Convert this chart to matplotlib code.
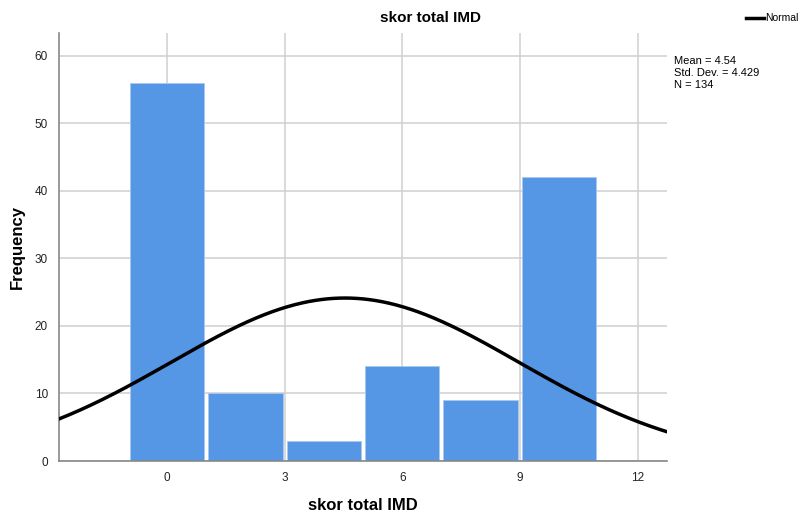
import numpy as np
import matplotlib
matplotlib.use("Agg")
import matplotlib.pyplot as plt

# histogram of skor total IMD
bin_centers = [0, 2, 4, 6, 8, 10]
counts = [56, 10, 3, 14, 9, 42]
mean = 4.54
std = 4.429
n = 134
bin_width = 2.0

xticks = [0, 3, 6, 9, 12]
yticks = [0, 10, 20, 30, 40, 50, 60]

plt.rcParams['font.family'] = ['Liberation Sans', 'DejaVu Sans']

fig = plt.figure(figsize=(8.01, 5.17), dpi=100)
ax = fig.add_axes([59 / 801, 1 - 461 / 517, (667 - 59) / 801, (461 - 33) / 517])

ax.set_axisbelow(True)
ax.grid(True, color='#cfcfcf', linewidth=1.1)
ax.bar(bin_centers, counts, width=1.9, color='#5596E5', edgecolor='#a8c8f0',
       linewidth=0.6, zorder=2)

# normal curve scaled to counts
xs = np.linspace(-2.75, 12.75, 400)
ys = n * bin_width / (std * np.sqrt(2 * np.pi)) * np.exp(-0.5 * ((xs - mean) / std) ** 2)
line, = ax.plot(xs, ys, color='black', linewidth=2.5, zorder=3)

ax.set_xlim(-2.75, 12.75)
ax.set_ylim(0, 63.4)
ax.set_xticks(xticks)
ax.set_yticks(yticks)
ax.tick_params(length=0, labelsize=8.5, colors='#222222', pad=8)

for side in ['top', 'right']:
    ax.spines[side].set_visible(False)
for side in ['left', 'bottom']:
    ax.spines[side].set_color('#888888')
    ax.spines[side].set_linewidth(1.2)

fig.text(431 / 801, 1 - 18 / 517, 'skor total IMD', ha='center', va='center',
         fontsize=11, fontweight='bold')
fig.text(363 / 801, 1 - 505 / 517, 'skor total IMD', ha='center', va='center',
         fontsize=12, fontweight='bold')
fig.text(17 / 801, 1 - 247 / 517, 'Frequency', ha='center', va='center',
         fontsize=12, fontweight='bold', rotation=90)

# legend and stats text
fig.legend([line], ['Normal'], loc='upper right', bbox_to_anchor=(803 / 801, 1 - 9 / 517),
           frameon=False, fontsize=7.5, handlelength=1.8, handletextpad=0.1,
           borderaxespad=0)
fig.text(674 / 801, 1 - 73 / 517, 'Mean = 4.54\nStd. Dev. = 4.429\nN = 134',
         ha='left', va='center', fontsize=8, linespacing=1.2)

fig.savefig('out.png', dpi=100)
